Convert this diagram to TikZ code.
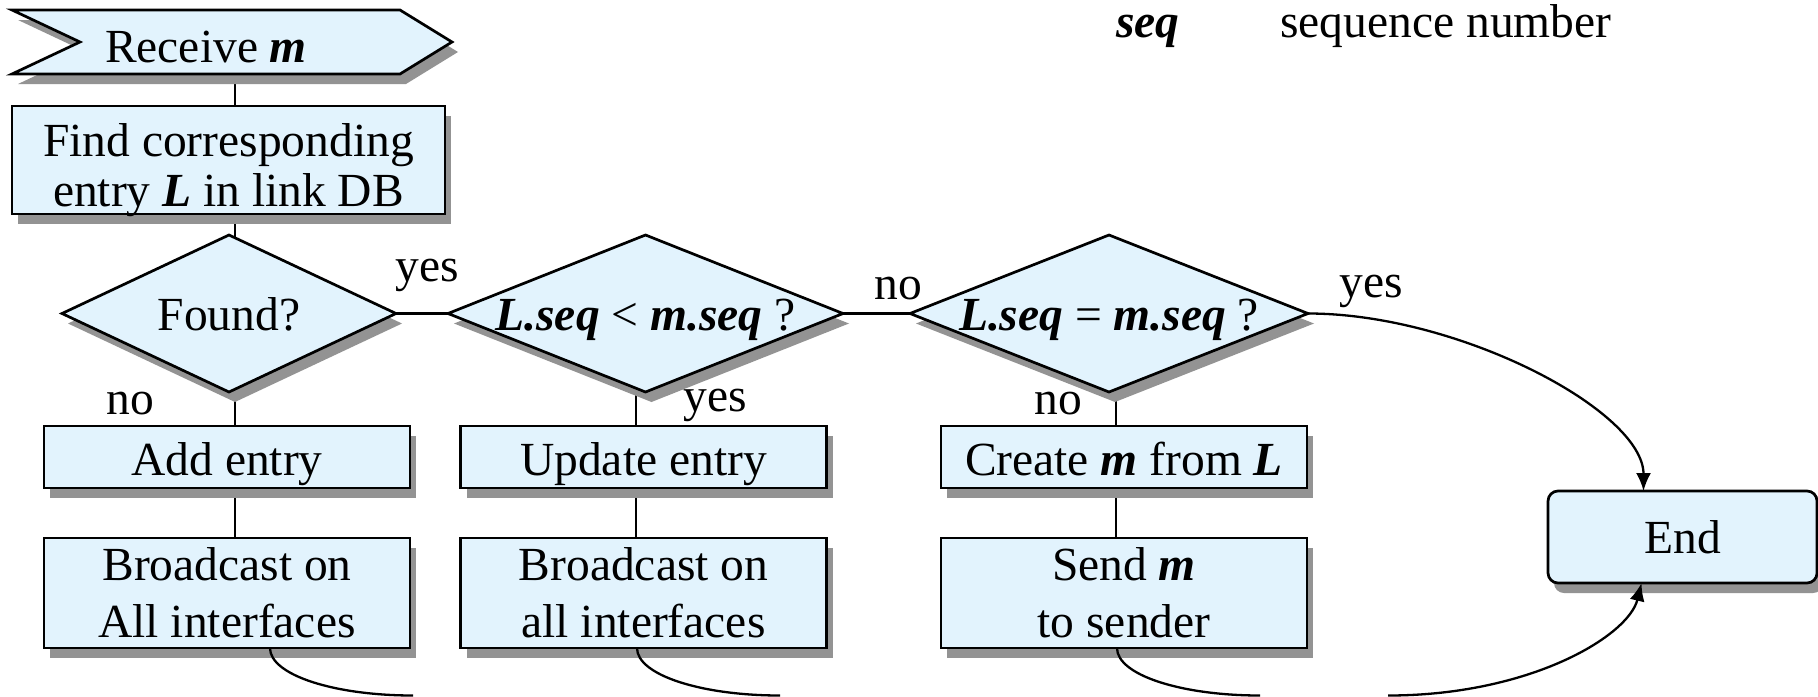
\documentclass[tikz,border=0pt]{standalone}
\usepackage{fontspec}
\setmainfont{Liberation Serif}
\usetikzlibrary{shapes.geometric,shadows,arrows.meta,calc}
\definecolor{boxfill}{RGB}{226,243,253}
\definecolor{shade}{RGB}{147,147,147}
\newcommand\bfit[1]{\textbf{\textit{#1}}}
\newcommand\chartfont{\fontsize{23.75pt}{28.5pt}\selectfont}
\pgfdeclarelayer{back}
\pgfsetlayers{back,main}
\tikzset{
  shadowed/.style={drop shadow={shadow xshift=3pt,shadow yshift=-5pt,fill=shade,opacity=1}},
  shapeline/.style={draw=black,line width=1.35pt,fill=boxfill,shadowed},
  stepbox/.style={shapeline,rectangle,inner sep=0pt,outer sep=0pt,minimum width=183pt,minimum height=31pt,text depth=0pt,text height=18pt},
  tallbox/.style={shapeline,rectangle,inner sep=0pt,outer sep=0pt,minimum width=183pt,minimum height=55pt,align=center},
  decision/.style={shapeline,diamond,inner sep=0pt,outer sep=0pt,minimum height=78.5pt,text depth=0pt,text height=16.5pt},
  link/.style={line width=1.15pt},
  flow/.style={line width=1.15pt,-{Latex[length=9pt,width=7.5pt]}},
  tag/.style={anchor=base,inner sep=0pt},
}
\begin{document}
\begin{tikzpicture}[x=0.5pt,y=-0.5pt,every node/.style={font=\chartfont}]
\useasboundingbox (0,0) rectangle (1818,696);
\clip (0,0) rectangle (1818,696);

% start flag (outline drawn on the back layer)
\node[inner sep=0pt,outer sep=0pt,minimum width=194pt,minimum height=32pt,text depth=0pt,text height=20pt] (recv) at (206,42) {Receive \bfit{m}};

% lookup
\node[tallbox,minimum width=216.5pt,minimum height=54pt,font=\fontsize{23.75pt}{25pt}\selectfont] (find) at (228.5,160)
  {\rule{0pt}{22pt}Find corresponding\\entr\smash{y} \bfit{L} in link DB};

% decisions
\node[decision,minimum width=167pt] (found) at (229,313.5) {\makebox[0pt]{Found?}};
\node[decision,minimum width=197.5pt] (ltd) at (645.5,313.5) {\makebox[0pt]{\bfit{L.seq} < \bfit{m.seq} ?}};
\node[decision,minimum width=199pt] (eqd) at (1109,313.5) {\makebox[0pt]{\bfit{L.seq} = \bfit{m.seq} ?}};

% actions
\node[stepbox] (add) at (227,457) {Add entry};
\node[tallbox] (bc1) at (227,593) {Broadcast on\\All interfaces};
\node[stepbox] (upd) at (643.5,457) {Update entry};
\node[tallbox] (bc2) at (643.5,593) {Broadcast on\\all interfaces};
\node[stepbox] (make) at (1124,457) {Create \bfit{m} from \bfit{L}};
\node[tallbox] (send) at (1124,593) {Send \bfit{m}\\to sender};

% terminal
\node[shapeline,rounded corners=5pt,inner sep=0pt,outer sep=0pt,minimum width=134.5pt,minimum height=46pt,text depth=0pt,text height=16pt] (end) at (1682.5,537) {End};

% branch labels
\node[tag] (y1) at (427,281) {yes};
\node[tag] (n1) at (898,299) {no};
\node[tag] (y2) at (1371,297) {yes};
\node[tag] (n2) at (130,414) {no};
\node[tag] (y3) at (715,411) {yes};
\node[tag] (n3) at (1058,414) {no};

% legend
\node[tag,anchor=base west] (key) at (1116,37) {\bfit{seq}};
\node[tag,anchor=base west] (keytext) at (1280,37) {sequence number};

% column lines
\coordinate (c1) at (235,0);
\coordinate (c2) at (636,0);
\coordinate (c3) at (1116,0);

\begin{pgfonlayer}{back}
  \draw[link] (recv.south -| c1) -- (find.north -| c1);
  \draw[link] (find.south -| c1) -- (found.center -| c1);
  \draw[link] (found.center -| c1) -- (add.north -| c1);
  \draw[link] (add.south -| c1) -- (bc1.north -| c1);
  \draw[link] (ltd.center -| c2) -- (upd.north -| c2);
  \draw[link] (upd.south -| c2) -- (bc2.north -| c2);
  \draw[link] (eqd.center -| c3) -- (make.north -| c3);
  \draw[link] (make.south -| c3) -- (send.north -| c3);
  \draw[link] (found.east) -- (ltd.west);
  \draw[link] (ltd.east) -- (eqd.west);
  \filldraw[shapeline] (recv.north west) -- (recv.north east) -- ($(recv.east)+(52,0)$)
    -- (recv.south east) -- (recv.south west) -- ($(recv.west)+(68,0)$) -- cycle;
\end{pgfonlayer}

% return paths running below the frame
\coordinate (j1) at (413,695.5);
\coordinate (j2) at (780,695.5);
\coordinate (j3) at (1260,695.5);
\coordinate (j4) at (1388,695.5);
\draw[link] ($(bc1.south)+(43,0)$) .. controls +(0,27) and +(-79,0) .. (j1);
\draw[link] ($(bc2.south)+(-6.5,0)$) .. controls +(0,27) and +(-79,0) .. (j2);
\draw[link] ($(send.south)+(-7,0)$) .. controls +(0,27) and +(-79,0) .. (j3);
\draw[flow] (j4) .. controls +(142,0) and +(-13,53) .. ($(end.south)+(-41,0)$);
\draw[flow] (eqd.east) .. controls +(151,0) and +(0,-80) .. ($(end.north)+(-39,0)$);
\end{tikzpicture}
\end{document}
